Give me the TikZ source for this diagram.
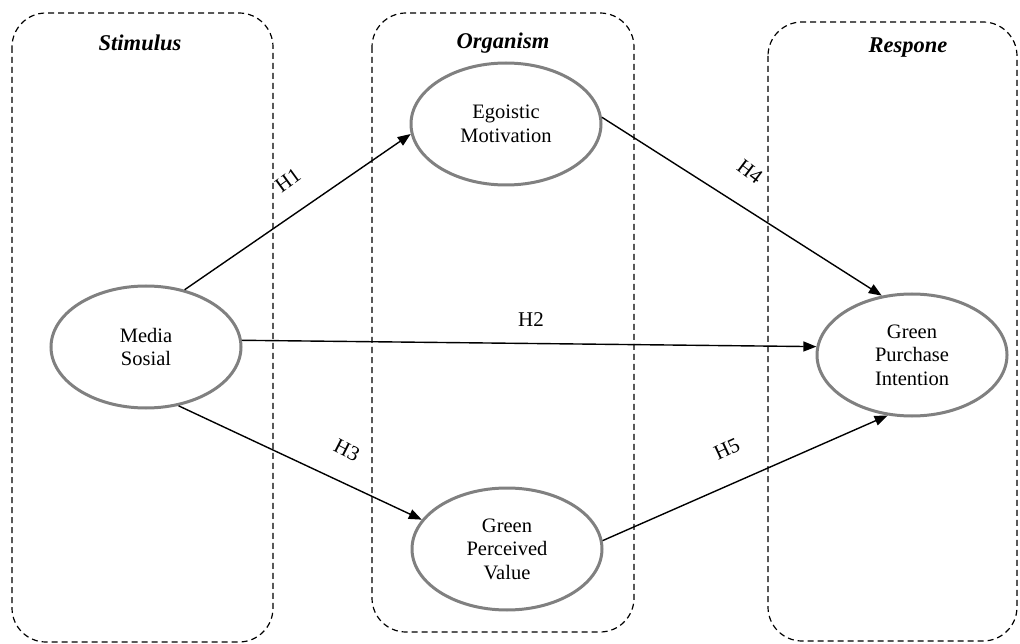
\documentclass[tikz,border=0pt]{standalone}
\usepackage{fontspec}
\setmainfont{Liberation Serif}
\usetikzlibrary{shapes.geometric,arrows.meta}

\tikzstyle{region} = [draw, line width=1.2pt, dash pattern=on 6pt off 4pt, rounded corners=34pt]
\tikzstyle{regiontitle} = [font=\fontsize{22.5}{26}\selectfont\bfseries\itshape]
\tikzstyle{construct} = [ellipse, draw=gray, line width=3pt, minimum width=190pt, minimum height=122pt, align=center, font=\fontsize{20.5}{23.5}\selectfont]
\tikzstyle{hpath} = [line width=1.4pt, -{Triangle[length=13pt,width=10pt]}]
\tikzstyle{hyp} = [font=\fontsize{21}{24}\selectfont]

\begin{document}
\begin{tikzpicture}[x=1pt,y=-1pt]
      \useasboundingbox (0,0) rectangle (1020,644);
      % regions
      \draw[region] (12,13) rectangle (273,642);
      \draw[region] (372,13) rectangle (634,632);
      \draw[region] (768,22) rectangle (1017,641);
      \node[regiontitle] (stim) at (140,43) {Stimulus};
      \node[regiontitle] (org) at (503,43) {Organism};
      \node[regiontitle] (resp) at (908,48) {Respone};
      % constructs
      \node[construct] (ms) at (146,347) {Media\\Sosial};
      \node[construct] (em) at (506,124) {Egoistic\\Motivation};
      \node[construct] (gpv) at (507,549) {Green\\Perceived\\Value};
      \node[construct] (gpi) at (912,355) {Green\\Purchase\\Intention};
      % hypotheses
      \draw[hpath] (ms.56) -- (em.186);
      \draw[hpath] (ms.4) -- (gpi.175);
      \draw[hpath] (ms.-61) -- (gpv.161);
      \draw[hpath] (em.4) -- (gpi.117);
      \draw[hpath] (gpv.5) -- (gpi.248);
      \node[hyp, rotate=36] (h1) at (288,180) {H1};
      \node[hyp] (h2) at (531,320) {H2};
      \node[hyp, rotate=-27] (h3) at (347,450) {H3};
      \node[hyp, rotate=-37] (h4) at (750,172) {H4};
      \node[hyp, rotate=25] (h5) at (727,449) {H5};
\end{tikzpicture}
\end{document}
